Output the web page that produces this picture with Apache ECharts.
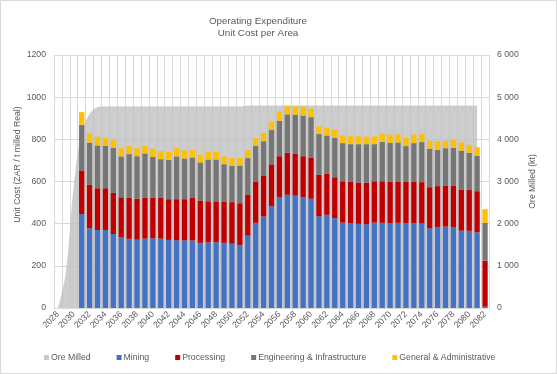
<!DOCTYPE html>
<html>
<head>
<meta charset="utf-8">
<script src="https://cdn.jsdelivr.net/npm/echarts@6/dist/echarts.min.js"></script>
<style>html,body{margin:0;padding:0;background:#fff;}#c{width:557px;height:374px;}</style>
</head>
<body>
<div id="c"></div>
<script>
const years = [];
for (let y = 2028; y <= 2082; y++) years.push(String(y));

const oreMilled = [0, 850, 2900, 4150, 4600, 4760, 4780, 4780, 4780, 4780, 4780, 4780, 4780, 4780, 4780, 4780, 4780, 4780, 4780, 4780, 4780, 4780, 4780, 4780,
  4800, 4800, 4800, 4800, 4800, 4800, 4800, 4800, 4800, 4800, 4800, 4800, 4800, 4800, 4800, 4800, 4800, 4800, 4800, 4800, 4800, 4800, 4800, 4800, 4800, 4800, 4800, 4800, 4800, 4800, null];

const mining = [null, null, null, 445, 378, 370, 370, 351, 335, 328, 324, 329, 331, 329, 323, 321, 321,
  320, 309, 312, 312, 309, 305, 299, 343, 404, 434, 483, 525, 537, 533, 525, 518,
  435, 442, 426, 405, 402, 399, 397, 405, 404, 402, 404, 402, 402, 401,
  378, 383, 386, 383, 367, 366, 359, 6];

const processing = [null, null, null, 207, 206, 198, 198, 195, 190, 194, 194, 193, 193, 193, 193, 195, 195,
  202, 201, 194, 194, 194, 197, 198, 195, 196, 193, 198, 195, 199, 198, 195, 196,
  197, 194, 194, 196, 196, 196, 197, 196, 197, 198, 196, 196, 196, 196,
  195, 195, 195, 198, 195, 196, 195, 219];

const engineering = [null, null, null, 217, 200, 203, 201, 214, 194, 208, 202, 211, 193, 184, 187, 203, 193,
  192, 180, 198, 198, 179, 172, 179, 173, 169, 164, 163, 168, 182, 186, 193, 191,
  193, 182, 188, 181, 179, 182, 183, 176, 187, 184, 185, 170, 184, 190,
  182, 172, 177, 179, 184, 174, 169, 179];

const general = [null, null, null, 60, 45, 41, 37, 36, 39, 38, 38, 35, 38, 38, 38, 39, 38,
  35, 37, 38, 37, 37, 37, 36, 38, 37, 40, 38, 44, 40, 39, 42, 40,
  36, 37, 39, 38, 37, 37, 35, 37, 38, 38, 38, 38, 41, 39,
  38, 41, 35, 38, 39, 38, 40, 65];

const leftTicks = [0, 200, 400, 600, 800, 1000, 1200];
const rightTicks = [0, 1000, 2000, 3000, 4000, 5000, 6000];

const txt = '#595959';
const fs = 8.7;
const chart = echarts.init(document.getElementById('c'), null, {renderer: 'canvas'});

function barSeries(name, data, color) {
  return {
    name: name, type: 'bar', stack: 'cost', data: data, yAxisIndex: 0,
    barCategoryGap: '33%', itemStyle: {color: color}, z: 3
  };
}

chart.setOption({
  animation: false,
  backgroundColor: '#fff',
  title: {
    text: 'Operating Expenditure\nUnit Cost per Area',
    left: 253, top: 10, textAlign: 'center',
    textStyle: {fontSize: 9.8, fontWeight: 'normal', color: txt, fontFamily: 'Liberation Sans', lineHeight: 12}
  },
  legend: {
    left: 39, top: 348, itemWidth: 5, itemHeight: 5, itemGap: 26, icon: 'rect',
    textStyle: {fontSize: fs, color: txt, fontFamily: 'Liberation Sans', padding: [0, 0, 0, -3]},
    data: ['Ore Milled', 'Mining', 'Processing', 'Engineering & Infrastructure', 'General & Administrative']
  },
  grid: {left: 54, right: 68, top: 55, bottom: 66, containLabel: false},
  xAxis: {
    type: 'category', data: years, boundaryGap: true,
    axisLine: {show: true, lineStyle: {color: '#d9d9d9'}},
    axisTick: {show: false},
    axisLabel: {interval: 1, rotate: 45, fontSize: fs, color: txt, fontFamily: 'Liberation Sans', margin: 5},
    splitLine: {show: true, interval: 0, lineStyle: {color: '#d9d9d9'}}
  },
  yAxis: [{
    type: 'value', min: leftTicks[0], max: leftTicks[leftTicks.length - 1], interval: 200,
    name: 'Unit Cost (ZAR / t milled Real)', nameLocation: 'middle', nameGap: 32, nameMoveOverlap: false,
    nameTextStyle: {fontSize: fs, color: txt, fontFamily: 'Liberation Sans', padding: [0, 0, 0, 34]},
    axisLine: {show: false}, axisTick: {show: false},
    axisLabel: {fontSize: fs, color: txt, fontFamily: 'Liberation Sans', margin: 8, formatter: v => String(v)},
    splitLine: {show: true, lineStyle: {color: '#d9d9d9'}}
  }, {
    type: 'value', min: rightTicks[0], max: rightTicks[rightTicks.length - 1], interval: 1000,
    name: 'Ore Milled (kt)', nameLocation: 'middle', nameGap: 39, nameMoveOverlap: false,
    nameTextStyle: {fontSize: fs, color: txt, fontFamily: 'Liberation Sans'},
    axisLine: {show: false}, axisTick: {show: false},
    axisLabel: {fontSize: fs, color: txt, fontFamily: 'Liberation Sans', margin: 8,
      formatter: v => String(v).replace(/\B(?=(\d{3})+(?!\d))/g, ' ')},
    splitLine: {show: false}
  }],
  graphic: [{
    type: 'rect', shape: {x: 0.5, y: 0.5, width: 556, height: 373},
    style: {fill: 'none', stroke: '#d9d9d9', lineWidth: 1}, silent: true, z: 100
  }],
  series: [
    {
      name: 'Ore Milled', type: 'line', yAxisIndex: 1, data: oreMilled, smooth: 0.4,
      symbol: 'none', lineStyle: {width: 0}, itemStyle: {color: '#c9c9c9'},
      areaStyle: {color: '#bfbfbf', opacity: 0.78}, z: 1
    },
    barSeries('Mining', mining, '#4472C4'),
    barSeries('Processing', processing, '#C00000'),
    barSeries('Engineering & Infrastructure', engineering, '#767676'),
    barSeries('General & Administrative', general, '#FFC000')
  ]
});
</script>
</body>
</html>
